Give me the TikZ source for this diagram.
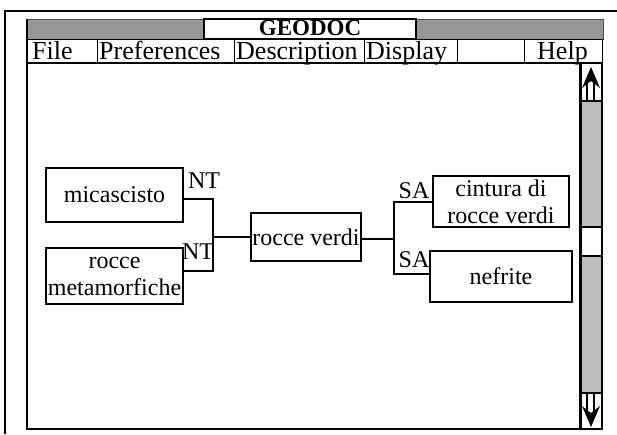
\documentclass[tikz,border=0pt]{standalone}
\usepackage{fontspec}
\setmainfont{Liberation Serif}
\definecolor{titlegray}{RGB}{150,150,150}
\definecolor{scrollgray}{RGB}{190,190,190}
\begin{document}
\begin{tikzpicture}[x=1pt,y=-1pt,
  box/.style={draw, line width=2pt, inner sep=0pt, align=center, font=\fontsize{24}{27}\selectfont},
  lab/.style={inner sep=0pt, font=\fontsize{24}{27}\selectfont},
  link/.style={line width=2pt},
  menuitem/.style={anchor=base west, inner sep=0pt, text height=17pt, text depth=3pt, font=\fontsize{26}{28}\selectfont},
  sepline/.style={line width=1pt},
  frame/.style={line width=2.5pt}]
\useasboundingbox (0,0) rectangle (617,434);
\fill[white] (0,0) rectangle (617,434);
% outer frame
\draw[line width=2pt] (5,434) -- (5,11) -- (617,11);
% title bar
\draw[fill=titlegray, draw=black!70, line width=1pt] (27,19) rectangle (603,39);
\draw[fill=white, line width=1.2pt] (204,19) rectangle (416,39);
\node[inner sep=0pt, text height=15pt, text depth=0pt, font=\fontsize{23}{25}\selectfont\bfseries] (title) at (310,28) {GEODOC};
% menu bar
\draw[fill=white, line width=1pt] (27,39) rectangle (602,63);
\foreach \xx in {97,234,364,457,524} \draw[sepline] (\xx,39) -- (\xx,63);
\node[menuitem] (mfile) at (32,59) {File};
\node[menuitem] (mpref) at (99,59) {Preferences};
\node[menuitem] (mdesc) at (236,59) {Description};
\node[menuitem] (mdisp) at (366,59) {Display};
\node[menuitem] (mhelp) at (537,59) {Help};
% content area
\draw[frame] (27,19) -- (27,429) -- (602,429);
\draw[frame] (27,63) -- (580,63);
% scrollbar
\fill[scrollgray] (580,63) rectangle (602,429);
\draw[fill=white, line width=1.5pt] (580,63) rectangle (602,101);
\draw[fill=white, line width=1.5pt] (580,227) rectangle (602,256);
\draw[fill=white, line width=1.5pt] (580,393) rectangle (602,429);
\draw[line width=1.5pt] (580,63) rectangle (602,429);
\draw[line width=3pt] (580,63) -- (580,429);
% up arrow
\fill (591,67) -- (600,88) -- (591,81) -- (582,88) -- cycle;
\draw[line width=1.2pt] (587,82) -- (587,101) (594,82) -- (594,101);
% down arrow
\fill (591,427) -- (600,406) -- (591,413) -- (582,406) -- cycle;
\draw[line width=1.2pt] (587,393) -- (587,412) (594,393) -- (594,412);
% diagram nodes
\node[box, minimum width=137pt, minimum height=54pt] (mica) at (114.5,195) {micascisto};
\node[box, minimum width=137pt, minimum height=56pt] (meta) at (114.5,276) {rocce\\metamorfiche};
\node[box, minimum width=110pt, minimum height=48pt] (verdi) at (306,237) {rocce verdi};
\node[box, minimum width=136pt, minimum height=51pt] (cint) at (501,201.5) {cintura di\\rocce verdi};
\node[box, minimum width=142pt, minimum height=51pt] (nef) at (501,276.5) {nefrite};
% junctions
\coordinate (jl) at (213,237);
\coordinate (jr) at (394,239);
\draw[link] ([yshift=-4pt]mica.east) -| (jl);
\draw[link] ([yshift=5pt]meta.east) -| (jl);
\draw[link] (jl) -- (verdi.west);
\draw[link] (verdi.east |- jr) -- (jr);
\draw[link] (cint.west) -| (jr);
\draw[link] ([yshift=3pt]nef.west) -| (jr);
% labels
\node[lab] (nt1) at (204,181) {NT};
\node[lab] (nt2) at (198,252) {NT};
\node[lab] (sa1) at (414,191) {SA};
\node[lab] (sa2) at (414,260) {SA};
\end{tikzpicture}
\end{document}
